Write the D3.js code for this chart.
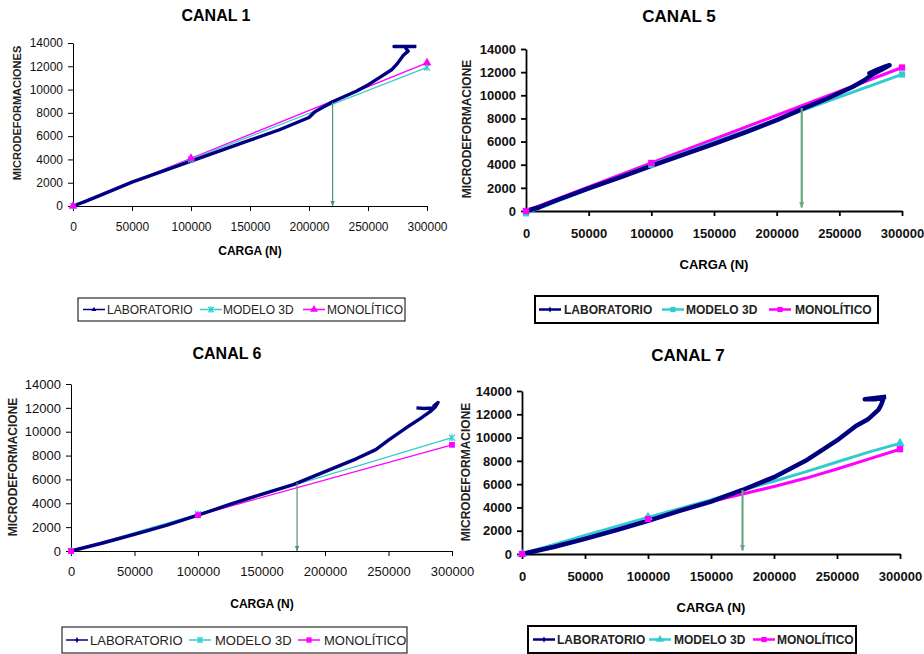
<!DOCTYPE html>
<html lang="es">
<head>
<meta charset="UTF-8">
<title>Canales 1, 5, 6 y 7</title>
<script src="https://d3js.org/d3.v7.min.js"></script>
<style>
  body { margin: 0; background: #fff; }
  svg { display: block; font-family: "Liberation Sans", Arial, sans-serif; }
</style>
</head>
<body>
<div id="chart"></div>
<script>
// axis ticks
const loadTicks = [0, 50000, 100000, 150000, 200000, 250000, 300000];
const strainTicks = [0, 2000, 4000, 6000, 8000, 10000, 12000, 14000];
const seriesNames = ["LABORATORIO", "MODELO 3D", "MONOLÍTICO"];
const panelTitles = ["CANAL 1", "CANAL 5", "CANAL 6", "CANAL 7"];
const yLabels = ["MICRODEFORMACIONES", "MICRODEFORMACIONE", "MICRODEFORMACIONE", "MICRODEFORMACIONE"];

// [carga N, microdeformaciones]
const ch1Lab = [[0, 0], [10000, 380], [25000, 1000], [50000, 2050], [75000, 2950], [100000, 3850],
  [125000, 4750], [150000, 5650], [175000, 6550], [200000, 7600], [205000, 8100], [220000, 8950],
  [230000, 9400], [240000, 9850], [250000, 10400], [260000, 11050], [270000, 11700], [275000, 12250],
  [280000, 12950], [284000, 13300], [282000, 13550], [283000, 13700], [272000, 13700], [291000, 13700]];
const ch1Model = [[0, 0], [100000, 4000], [300000, 11900]];
const ch1Mono = [[0, 0], [100000, 4100], [300000, 12300]];

const ch5Lab = [[0, 0], [10000, 300], [25000, 950], [50000, 1950], [75000, 2900], [100000, 3900],
  [125000, 4850], [150000, 5800], [175000, 6800], [200000, 7850], [220000, 8800], [240000, 9700],
  [250000, 10200], [260000, 10700], [270000, 11300], [275000, 11700], [280000, 12000], [285000, 12300],
  [290000, 12600], [287000, 12500], [280000, 12200], [274000, 11900], [283000, 12300], [288000, 12500]];
const ch5Model = [[0, -200], [100000, 4000], [300000, 11800]];
const ch5Mono = [[0, 0], [100000, 4150], [300000, 12400]];

const ch6Lab = [[0, 0], [25000, 670], [50000, 1400], [75000, 2150], [100000, 3000], [125000, 3900],
  [150000, 4750], [175000, 5570], [200000, 6650], [225000, 7750], [240000, 8500], [250000, 9300],
  [265000, 10400], [275000, 11100], [283000, 11700], [287000, 12100], [289000, 12450], [286000, 12200],
  [285000, 12000], [278000, 11950], [272000, 12000]];
const ch6Model = [[0, 0], [100000, 3100], [300000, 9500]];
const ch6Mono = [[0, 0], [100000, 3000], [300000, 8900]];

const ch7Lab = [[0, 0], [25000, 600], [50000, 1300], [75000, 2050], [100000, 2850], [125000, 3700],
  [150000, 4500], [175000, 5500], [200000, 6600], [225000, 8000], [250000, 9750], [265000, 11000],
  [275000, 11600], [283000, 12400], [285000, 12800], [287000, 13400], [280000, 13300], [272000, 13300],
  [289000, 13500]];
const ch7Model = [[0, 0], [50000, 1600], [100000, 3150], [150000, 4650], [175000, 5500], [200000, 6250],
  [225000, 7050], [250000, 7900], [275000, 8750], [300000, 9500]];
const ch7Mono = [[0, 0], [50000, 1500], [100000, 3000], [150000, 4500], [175000, 5150], [200000, 5800],
  [225000, 6500], [250000, 7300], [275000, 8150], [300000, 9000]];

// loads where the model series show a marker
const modelMarkLoads = [0, 100000, 300000];

// green arrows: load, top strain, bottom strain
const arrowLoads = [220000, 220000, 178000, 175000];
const arrowTops = [8900, 8900, 5750, 5500];
const arrowBottoms = [0, 300, 0, 300];

const colors = ["#000080", "#33cccc", "#ff00ff"];

const svg = d3.select("#chart").append("svg")
  .attr("width", 924).attr("height", 654);

const defs = svg.append("defs");
function arrowMarker(id, color, size) {
  defs.append("marker")
    .attr("id", id)
    .attr("viewBox", "0 0 10 10")
    .attr("refX", 9).attr("refY", 5)
    .attr("markerWidth", size).attr("markerHeight", size)
    .attr("orient", "auto")
    .append("path")
    .attr("d", "M0,1L10,5L0,9Z")
    .attr("fill", color);
}
arrowMarker("arrowA", "#4f9870", 5);
arrowMarker("arrowB", "#6aa883", 3);

// layout of each panel (pixel positions)
const panels = [
  { lab: ch1Lab, model: ch1Model, mono: ch1Mono,
    x0: 73, x1: 427, yTop: 43, yBot: 206,
    title: [216, 15], xLab: [250, 251], yLab: [17, 113],
    legend: [78, 298, 327, 23], items: [[83, 107], [200, 223], [303, 327]],
    marks: ["tri", "star", "tri"], heavy: false, fs: 12, arrow: "arrowA" },
  { lab: ch5Lab, model: ch5Model, mono: ch5Mono,
    x0: 526, x1: 902, yTop: 49, yBot: 211,
    title: [679, 16], xLab: [714, 264], yLab: [467, 129],
    legend: [535, 296, 343, 27], items: [[539, 564], [662, 686], [769, 795]],
    marks: ["diamond", "square", "square"], heavy: true, fs: 13, arrow: "arrowB" },
  { lab: ch6Lab, model: ch6Model, mono: ch6Mono,
    x0: 71, x1: 452, yTop: 384, yBot: 551,
    title: [227, 353], xLab: [262, 604], yLab: [12.5, 467],
    legend: [62, 627, 345, 26], items: [[66, 90], [189, 215], [298, 324]],
    marks: ["diamond", "star", "square"], heavy: false, fs: 13, arrow: "arrowA" },
  { lab: ch7Lab, model: ch7Model, mono: ch7Mono,
    x0: 522, x1: 900, yTop: 391, yBot: 554,
    title: [688, 355], xLab: [711, 607], yLab: [466, 472],
    legend: [528, 626, 328, 27], items: [[533, 557], [649, 674], [753, 777]],
    marks: ["diamond", "tri", "square"], heavy: true, fs: 13, arrow: "arrowB" }
];

function drawMark(g, type, x, y, color, size) {
  if (type === "star") {
    const s = size * 0.55;
    g.append("path")
      .attr("d", `M${x - s},${y - s}L${x + s},${y + s}M${x - s},${y + s}L${x + s},${y - s}M${x},${y - s * 1.2}L${x},${y + s * 1.2}`)
      .attr("stroke", color).attr("stroke-width", 1.2).attr("fill", "none");
    return;
  }
  const sym = { tri: d3.symbolTriangle, square: d3.symbolSquare, diamond: d3.symbolDiamond }[type];
  g.append("path")
    .attr("d", d3.symbol().type(sym).size(size * size * 1.1)())
    .attr("transform", `translate(${x},${y})`)
    .attr("fill", color);
}

function drawPanel(p, i) {
  const g = svg.append("g");
  const xScale = d3.scaleLinear().domain([0, 300000]).range([p.x0, p.x1]);
  const yScale = d3.scaleLinear().domain([0, 14000]).range([p.yBot, p.yTop]);
  const axisW = p.heavy ? 1.8 : 1;
  const tickWeight = p.heavy ? "bold" : "normal";

  const xAxis = g.append("g")
    .attr("transform", `translate(0,${p.yBot})`)
    .call(d3.axisBottom(xScale).tickValues(loadTicks).tickFormat(d3.format("d"))
      .tickSize(5).tickPadding(p.heavy ? 13 : 11).tickSizeOuter(0));
  const yAxis = g.append("g")
    .attr("transform", `translate(${p.x0},0)`)
    .call(d3.axisLeft(yScale).tickValues(strainTicks).tickFormat(d3.format("d"))
      .tickSize(5).tickPadding(5).tickSizeOuter(0));
  [xAxis, yAxis].forEach(a => {
    a.selectAll("path, line").attr("stroke", "#000").attr("stroke-width", axisW);
    a.selectAll("text").attr("font-size", p.fs).attr("font-family", "Liberation Sans, Arial, sans-serif")
      .attr("font-weight", tickWeight).attr("fill", "#111");
  });

  const line = d3.line().x(d => xScale(d[0])).y(d => yScale(d[1]));

  // models first, laboratory on top
  const modelW = p.heavy ? 3 : 1.3;
  [[p.mono, 2], [p.model, 1]].forEach(([data, k]) => {
    g.append("path").datum(data).attr("d", line)
      .attr("fill", "none").attr("stroke", colors[k]).attr("stroke-width", modelW);
  });
  g.append("path").datum(p.lab).attr("d", line)
    .attr("fill", "none").attr("stroke", colors[0])
    .attr("stroke-width", p.heavy ? 4.5 : 3.4).attr("stroke-linejoin", "round");
  [[p.model, 1], [p.mono, 2]].forEach(([data, k]) => {
    data.filter(d => modelMarkLoads.includes(d[0])).forEach(d => {
      drawMark(g, p.marks[k], xScale(d[0]), yScale(d[1]), colors[k], p.heavy ? 6 : 5.5);
    });
  });

  // green arrow
  g.append("line")
    .attr("x1", xScale(arrowLoads[i])).attr("x2", xScale(arrowLoads[i]))
    .attr("y1", yScale(arrowTops[i])).attr("y2", yScale(arrowBottoms[i]))
    .attr("stroke", p.heavy ? "#6aa883" : "#4f9870")
    .attr("stroke-width", p.heavy ? 2.2 : 1.2)
    .attr("marker-end", `url(#${p.arrow})`);

  // titles
  g.append("text").attr("x", p.title[0]).attr("y", p.title[1])
    .attr("text-anchor", "middle").attr("dominant-baseline", "central")
    .attr("font-size", p.heavy ? 17 : 16).attr("font-weight", "bold").text(panelTitles[i]);
  g.append("text").attr("x", p.xLab[0]).attr("y", p.xLab[1])
    .attr("text-anchor", "middle").attr("dominant-baseline", "central")
    .attr("font-size", p.heavy ? 13 : 12).attr("font-weight", "bold").text("CARGA (N)");
  g.append("text")
    .attr("transform", `translate(${p.yLab[0]},${p.yLab[1]}) rotate(-90)`)
    .attr("text-anchor", "middle").attr("dominant-baseline", "central")
    .attr("font-size", i === 0 ? 11 : 12).attr("font-weight", "bold").attr("fill", "#222")
    .text(yLabels[i]);

  // legend
  const [lx, ly, lw, lh] = p.legend;
  g.append("rect").attr("x", lx).attr("y", ly).attr("width", lw).attr("height", lh)
    .attr("fill", "#fff").attr("stroke", "#000").attr("stroke-width", p.heavy ? 2 : 1);
  const cy = ly + lh / 2;
  seriesNames.forEach((name, k) => {
    const [sx, tx] = p.items[k];
    g.append("line").attr("x1", sx).attr("x2", sx + 22).attr("y1", cy).attr("y2", cy)
      .attr("stroke", colors[k]).attr("stroke-width", p.heavy ? 2.5 : 1.5);
    drawMark(g, p.marks[k], sx + 11, cy, colors[k], k === 0 ? 3 : 5);
    g.append("text").attr("x", tx).attr("y", cy)
      .attr("dominant-baseline", "central")
      .attr("font-size", p.heavy ? 12 : (i === 2 ? 13 : 12))
      .attr("font-weight", p.heavy ? "bold" : "normal").attr("fill", "#222")
      .text(name);
  });
}

panels.forEach(drawPanel);
</script>
</body>
</html>
